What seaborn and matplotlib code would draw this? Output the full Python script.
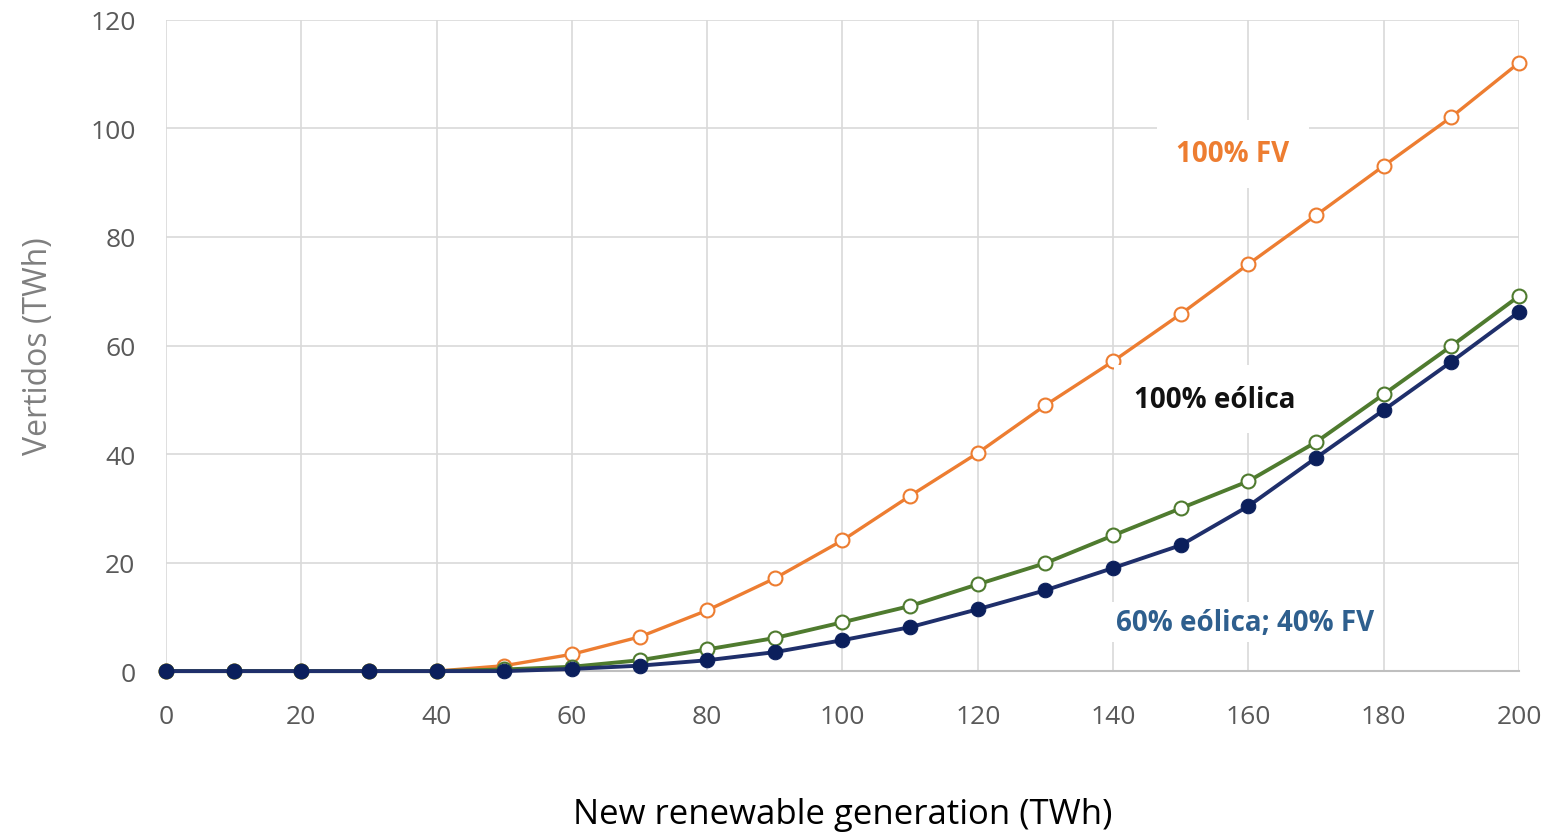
import numpy as np
import pandas as pd
import matplotlib
matplotlib.use("Agg")
import matplotlib.pyplot as plt
import seaborn as sns

# data
generation = [0, 10, 20, 30, 40, 50, 60, 70, 80, 90, 100, 110, 120, 130, 140, 150, 160, 170, 180, 190, 200]
fv_100 = [0, 0, 0, 0, 0, 1.0, 3.1, 6.3, 11.2, 17.1, 24.1, 32.3, 40.2, 49.0, 57.1, 65.8, 75.0, 84.0, 93.1, 102.1, 112.1]
eolica_100 = [0, 0, 0, 0, 0, 0.3, 0.8, 2.0, 4.0, 6.1, 9.0, 12.0, 16.0, 19.9, 25.0, 30.0, 35.0, 42.2, 51.0, 59.9, 69.1]
mix_60_40 = [0, 0, 0, 0, 0, 0, 0.4, 1.0, 2.0, 3.5, 5.7, 8.1, 11.4, 14.9, 19.0, 23.2, 30.4, 39.3, 48.1, 57.0, 66.2]

orange = "#ED7D31"
green = "#4F7B2F"
navy = "#1F2F6B"
navy_dot = "#0B1F5C"

sns.set_style("white")
plt.rcParams['font.family'] = ['Open Sans', 'DejaVu Sans']

fig = plt.figure(figsize=(15.56, 8.37), dpi=100)
ax = fig.add_axes([0.1067, 0.197, 0.8695, 0.778])

# orange: 100% FV
sns.lineplot(x=generation, y=fv_100, ax=ax, color=orange, linewidth=2.4,
             marker="o", markersize=10, markerfacecolor="white",
             markeredgecolor=orange, markeredgewidth=1.5, zorder=3, clip_on=False)
# green: 100% eolica
sns.lineplot(x=generation, y=eolica_100, ax=ax, color=green, linewidth=2.8,
             marker="o", markersize=10, markerfacecolor="white",
             markeredgecolor=green, markeredgewidth=1.5, zorder=4, clip_on=False)
# navy: 60/40 mix
sns.lineplot(x=generation, y=mix_60_40, ax=ax, color=navy, linewidth=2.8,
             marker="o", markersize=10.5, markerfacecolor=navy_dot,
             markeredgecolor=navy_dot, zorder=5, clip_on=False)

ax.set_xlim(0, 200)
ax.set_ylim(0, 120)
ax.set_xticks(np.arange(0, 201, 20))
ax.set_yticks(np.arange(0, 121, 20))
ax.grid(True, color="#D9D9D9", linewidth=1.2)
ax.set_axisbelow(True)
for s in ["top", "right", "left"]:
    ax.spines[s].set_visible(False)
ax.spines["bottom"].set_color("#BFBFBF")
ax.spines["bottom"].set_linewidth(1.5)
ax.spines["bottom"].set_zorder(2)
ax.tick_params(axis="both", length=0, labelsize=19, labelcolor="#595959")
ax.tick_params(axis="x", pad=24)
ax.tick_params(axis="y", pad=22)

ax.set_xlabel("New renewable generation (TWh)", fontsize=25, color="black", labelpad=49)
ax.set_ylabel("Vertidos (TWh)", fontsize=23, color="#7F7F7F", labelpad=25)

box = dict(facecolor="white", edgecolor="none", pad=14)
ax.text(157.7, 95.3, "100% FV", color=orange, fontsize=20, fontweight="bold",
        ha="center", va="center", bbox=box, zorder=6)
ax.text(155, 50.1, "100% eólica", color="#111111", fontsize=20, fontweight="bold",
        ha="center", va="center", bbox=box, zorder=6)
ax.text(159.5, 9.0, "60% eólica; 40% FV", color="#2E5F8E", fontsize=20, fontweight="bold",
        ha="center", va="center", bbox=dict(facecolor="white", edgecolor="none", pad=4), zorder=6)

fig.savefig("out.png", dpi=100)
